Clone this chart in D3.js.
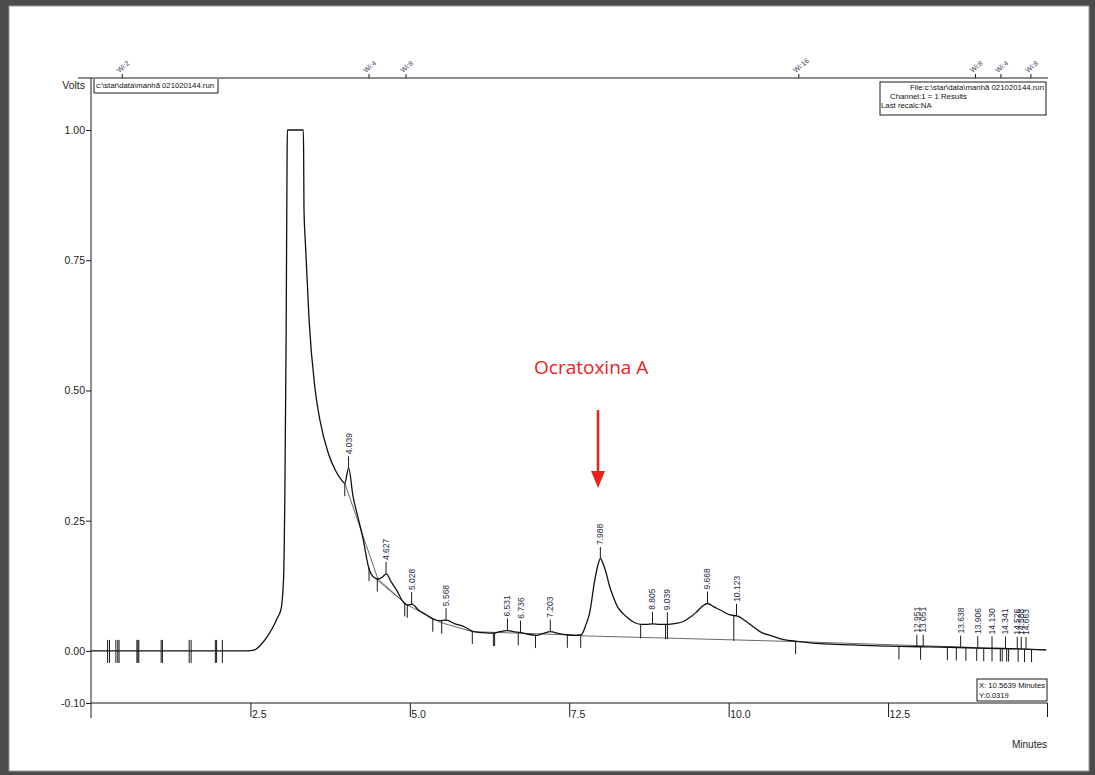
<!DOCTYPE html>
<html>
<head>
<meta charset="utf-8">
<script src="https://cdn.jsdelivr.net/npm/d3@7"></script>
<style>
  html, body { margin: 0; padding: 0; background: #4b4b4b; }
  svg { display: block; font-family: "Liberation Sans", Arial, sans-serif; }
</style>
</head>
<body>
<script>
// ---- detector trace (minutes, volts) ----
const traceTime = [0.0, 0.5, 1.0, 1.5, 2.0, 2.45, 2.57, 2.65, 2.75, 2.85, 2.93, 2.98, 3.02, 3.04, 3.06, 3.075, 3.08,
  3.33, 3.335, 3.34, 3.355, 3.37, 3.42, 3.51, 3.59, 3.72, 3.84, 3.93, 3.98, 4.04, 4.11, 4.19, 4.27, 4.35, 4.42,
  4.50, 4.58, 4.63, 4.71, 4.79, 4.91, 4.97, 5.03, 5.14, 5.26, 5.37, 5.47, 5.57, 5.71, 5.84, 6.00, 6.15, 6.31,
  6.41, 6.53, 6.62, 6.74, 6.85, 6.99, 7.08, 7.21, 7.32, 7.46, 7.59, 7.69, 7.76, 7.82, 7.90, 7.95, 7.99, 8.03,
  8.08, 8.13, 8.19, 8.26, 8.34, 8.42, 8.50, 8.62, 8.71, 8.81, 8.92, 9.05, 9.17, 9.28, 9.39, 9.49, 9.59, 9.67,
  9.76, 9.86, 10.02, 10.14, 10.28, 10.38, 10.49, 10.70, 10.89, 11.03, 11.43, 11.95, 12.52, 12.99, 13.46, 14.04,
  14.56, 14.98];
const traceVolts = [0.0, 0.0, 0.0, 0.0, 0.0, 0.0, 0.002, 0.010, 0.025, 0.045, 0.065, 0.08, 0.14, 0.30, 0.60, 0.95, 1.0,
  1.0, 0.95, 0.85, 0.80, 0.764, 0.635, 0.507, 0.443, 0.380, 0.345, 0.328, 0.322, 0.351, 0.296, 0.255, 0.213, 0.162, 0.143,
  0.138, 0.143, 0.148, 0.132, 0.117, 0.092, 0.088, 0.090, 0.078, 0.069, 0.061, 0.058, 0.059, 0.052, 0.047, 0.037, 0.035, 0.034,
  0.037, 0.039, 0.037, 0.035, 0.032, 0.030, 0.033, 0.037, 0.034, 0.031, 0.030, 0.031, 0.050, 0.073, 0.136, 0.165, 0.177, 0.168,
  0.149, 0.125, 0.104, 0.084, 0.072, 0.063, 0.056, 0.051, 0.051, 0.052, 0.051, 0.051, 0.053, 0.056, 0.064, 0.074, 0.086, 0.091,
  0.085, 0.079, 0.069, 0.067, 0.056, 0.047, 0.037, 0.028, 0.021, 0.019, 0.014, 0.0115, 0.009, 0.008, 0.007, 0.005,
  0.004, 0.002];

// ---- integration baselines: [t0, v0, t1, v1] ----
const baselineSegments = [
  [3.98, 0.322, 4.50, 0.138],
  [4.42, 0.143, 4.95, 0.089],
  [4.50, 0.138, 4.95, 0.089],
  [4.95, 0.089, 5.47, 0.055],
  [5.47, 0.055, 5.98, 0.037],
  [5.98, 0.037, 7.69, 0.030],
  [7.69, 0.029, 11.03, 0.018],
  [11.03, 0.018, 14.98, 0.002]
];

// ---- identified peaks ----
const peakLabels = ["4.039", "4.627", "5.028", "5.568", "6.531", "6.736", "7.203", "7.988", "8.805", "9.039",
  "9.668", "10.123", "12.951", "13.051", "13.638", "13.906", "14.130", "14.341", "14.526", "14.588", "14.663"];
const peakTimes = peakLabels.map(Number);

// ---- event marks on the trace (minutes) ----
const startEvents = [0.26, 0.29, 0.39, 0.42, 0.44, 0.72, 0.735, 0.75, 1.10, 1.12, 1.54, 1.57, 1.95, 1.97, 2.06];
const downEvents = [3.98, 4.36, 4.49, 4.92, 4.96, 5.36, 5.50, 5.98, 6.31, 6.33, 6.70, 6.97, 7.47, 7.68, 11.05,
  12.67, 13.01, 13.43, 13.57, 13.72, 13.89, 14.00, 14.13, 14.26, 14.29, 14.36, 14.39, 14.54, 14.64, 14.75];
const dropLines = [8.62, 9.01, 9.04, 10.08];

// ---- axes ----
const yTicks = [1.0, 0.75, 0.5, 0.25, 0.0, -0.1];
const yTickLabels = ["1.00", "0.75", "0.50", "0.25", "0.00", "-0.10"];
const xTicks = [2.5, 5.0, 7.5, 10.0, 12.5];
const xTickLabels = ["2.5", "5.0", "7.5", "10.0", "12.5"];

// ---- attenuation marks along the top ----
const widthMarkTimes = [0.49, 4.36, 4.94, 11.10, 13.87, 14.27, 14.74];
const widthMarkLabels = ["Wi:2", "Wi:4", "Wi:8", "Wi:16", "Wi:8", "Wi:4", "Wi:8"];

const W = 1095, H = 775;
const svg = d3.select("body").append("svg").attr("width", W).attr("height", H);

// page
svg.append("rect").attr("x", 0).attr("y", 0).attr("width", W).attr("height", H).attr("fill", "#4b4b4b");
svg.append("rect").attr("x", 9).attr("y", 6).attr("width", 1080).attr("height", 765)
  .attr("fill", "#ffffff").attr("stroke", "#9a9a9a").attr("stroke-width", 1);

const x = d3.scaleLinear().domain([0, 15]).range([91, 1047.5]);
const y = d3.scaleLinear().domain([-0.1, 1.0]).range([703, 130]);

const ink = "#1a1a1a";

// trace value lookup
const bis = d3.bisector(d => d).left;
function traceAt(t) {
  const i = Math.max(1, Math.min(traceTime.length - 1, bis(traceTime, t)));
  const t0 = traceTime[i - 1], t1 = traceTime[i];
  const f = (t - t0) / (t1 - t0);
  return traceVolts[i - 1] + f * (traceVolts[i] - traceVolts[i - 1]);
}

// top rule with attenuation marks
svg.append("line").attr("x1", 78).attr("x2", 1048).attr("y1", 78).attr("y2", 78)
  .attr("stroke", ink).attr("stroke-width", 1);
const wm = svg.append("g");
widthMarkTimes.forEach((t, i) => {
  const px = x(t);
  wm.append("line").attr("x1", px).attr("x2", px).attr("y1", 78).attr("y2", 74)
    .attr("stroke", ink).attr("stroke-width", 1);
  wm.append("text").attr("transform", `translate(${px - 3},${73}) rotate(-40)`)
    .attr("font-size", 7).attr("fill", "#3c4260").text(widthMarkLabels[i]);
});

// y axis
const yAxis = d3.axisLeft(y).tickValues(yTicks).tickSize(5).tickFormat((d, i) => yTickLabels[i]);
const gy = svg.append("g").attr("transform", "translate(91,0)").call(yAxis);
gy.select(".domain").remove();
gy.selectAll("line").attr("stroke", ink);
gy.selectAll("text").attr("font-size", 10.5).attr("fill", "#222").attr("x", -6)
  .attr("font-family", "'Liberation Sans', Arial, sans-serif");
svg.append("line").attr("x1", 91).attr("x2", 91).attr("y1", 78).attr("y2", 718)
  .attr("stroke", ink).attr("stroke-width", 1);

// x axis
const xAxis = d3.axisBottom(x).tickValues(xTicks).tickSize(14).tickFormat((d, i) => xTickLabels[i]);
const gx = svg.append("g").attr("transform", `translate(0,${y(-0.1)})`).call(xAxis);
gx.select(".domain").remove();
gx.selectAll("line").attr("stroke", ink);
gx.selectAll("text").attr("font-size", 10.5).attr("fill", "#222").attr("text-anchor", "start")
  .attr("x", 1).attr("y", 8).attr("font-family", "'Liberation Sans', Arial, sans-serif");
svg.append("line").attr("x1", 91).attr("x2", 1047.5).attr("y1", y(-0.1)).attr("y2", y(-0.1))
  .attr("stroke", ink).attr("stroke-width", 1.2);
svg.append("line").attr("x1", x(15)).attr("x2", x(15)).attr("y1", y(-0.1)).attr("y2", y(-0.1) + 14)
  .attr("stroke", ink).attr("stroke-width", 1);

svg.append("text").attr("x", 85).attr("y", 89).attr("text-anchor", "end")
  .attr("font-size", 10.5).attr("fill", "#222").text("Volts");
svg.append("text").attr("x", 1047).attr("y", 748).attr("text-anchor", "end")
  .attr("font-size", 10).attr("fill", "#222").text("Minutes");

// file box, top left
svg.append("path").attr("d", "M94,79 V93 H218 V79").attr("fill", "none").attr("stroke", ink).attr("stroke-width", 1);
svg.append("text").attr("x", 96).attr("y", 88).attr("font-size", 7.5).attr("fill", "#111")
  .attr("textLength", 118).attr("lengthAdjust", "spacingAndGlyphs").text("c:\\star\\data\\manhã 021020144.run");

// results box, top right
svg.append("rect").attr("x", 880).attr("y", 82).attr("width", 166).attr("height", 33)
  .attr("fill", "#fff").attr("stroke", ink).attr("stroke-width", 1);
svg.append("text").attr("x", 1044).attr("y", 90).attr("text-anchor", "end").attr("font-size", 7.8).attr("fill", "#111")
  .text("File:c:\\star\\data\\manhã 021020144.run");
svg.append("text").attr("x", 890).attr("y", 99).attr("font-size", 7.8).attr("fill", "#111")
  .text("Channel:1 = 1  Results");
svg.append("text").attr("x", 881).attr("y", 107.5).attr("font-size", 7.8).attr("fill", "#111")
  .text("Last recalc:NA");

// cursor readout, bottom right
svg.append("rect").attr("x", 977).attr("y", 679).attr("width", 70).attr("height", 22)
  .attr("fill", "#fff").attr("stroke", ink).attr("stroke-width", 1);
svg.append("text").attr("x", 979).attr("y", 688).attr("font-size", 7.5).attr("fill", "#111")
  .attr("textLength", 66).attr("lengthAdjust", "spacingAndGlyphs").text("X: 10.5639 Minutes");
svg.append("text").attr("x", 979).attr("y", 698).attr("font-size", 7.5).attr("fill", "#111").text("Y:0.0319");

// integration baselines
const gb = svg.append("g");
baselineSegments.forEach(s => {
  gb.append("line").attr("x1", x(s[0])).attr("y1", y(s[1])).attr("x2", x(s[2])).attr("y2", y(s[3]))
    .attr("stroke", "#444").attr("stroke-width", 0.8);
});

// trace
const pts = traceTime.map((t, i) => [t, traceVolts[i]]);
const line = d3.line().x(d => x(d[0])).y(d => y(d[1])).curve(d3.curveMonotoneX);
svg.append("path").datum(pts).attr("d", line).attr("fill", "none")
  .attr("stroke", "#111").attr("stroke-width", 1.3).attr("stroke-linejoin", "round");

// event marks
const ge = svg.append("g").attr("stroke", ink).attr("stroke-width", 1);
startEvents.forEach(t => {
  ge.append("line").attr("x1", x(t)).attr("x2", x(t)).attr("y1", y(0) - 11).attr("y2", y(0) + 12);
});
downEvents.forEach(t => {
  const v = traceAt(t);
  ge.append("line").attr("x1", x(t)).attr("x2", x(t)).attr("y1", y(v)).attr("y2", y(v) + 13);
});
dropLines.forEach(t => {
  const v = traceAt(t);
  const base = 0.029 + (t - 7.69) * (0.018 - 0.029) / (11.03 - 7.69);
  ge.append("line").attr("x1", x(t)).attr("x2", x(t)).attr("y1", y(v)).attr("y2", y(base) + 1);
});

// peak labels
const gp = svg.append("g");
peakTimes.forEach((t, i) => {
  const px = x(t), py = y(traceAt(t));
  gp.append("line").attr("x1", px).attr("x2", px).attr("y1", py).attr("y2", py - 12)
    .attr("stroke", ink).attr("stroke-width", 1);
  gp.append("text").attr("transform", `translate(${px + 3},${py - 14}) rotate(-90)`)
    .attr("font-size", 8.5).attr("fill", "#262a40").text(peakLabels[i]);
});

// annotation
svg.append("text").attr("x", 534).attr("y", 374).attr("font-size", 19)
  .attr("font-family", "'Open Sans', 'Liberation Sans', sans-serif")
  .attr("fill", "#e8221e").text("Ocratoxina A");
svg.append("line").attr("x1", 598).attr("x2", 598).attr("y1", 410).attr("y2", 473)
  .attr("stroke", "#e8221e").attr("stroke-width", 2.5);
svg.append("path").attr("d", "M591,471 L605,471 L598,488 Z").attr("fill", "#e8221e");
</script>
</body>
</html>
